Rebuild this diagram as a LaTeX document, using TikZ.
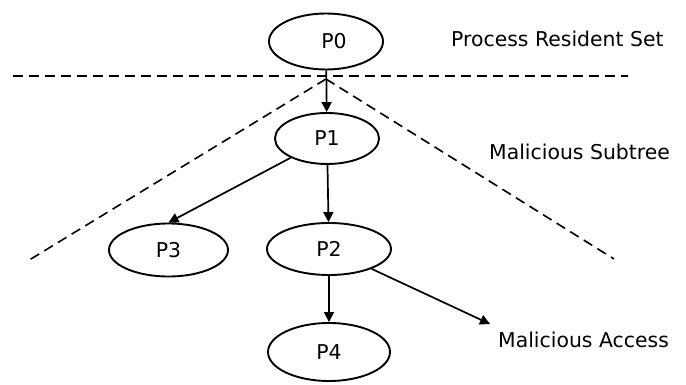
\documentclass[tikz,border=0pt]{standalone}
\usepackage{fontspec}
\setmainfont{DejaVu Sans}
\usetikzlibrary{shapes.geometric,arrows.meta}

\begin{document}
\begin{tikzpicture}[x=1pt,y=-1pt,
  font=\fontsize{20.4}{24}\selectfont,
  proc/.style={ellipse,draw,line width=1.9pt,inner sep=0pt},
  link/.style={line width=1.7pt,-{Triangle[length=10pt,width=10pt]}},
  border/.style={line width=1.6pt,dash pattern=on 10pt off 6pt},
  caption/.style={anchor=base west,inner sep=0pt}]

  \useasboundingbox (0,0) rectangle (686,385);

  % process tree
  \node[proc,minimum width=114pt,minimum height=56pt] (P0) at (326,41.5) {\hspace{16pt}P0};
  \node[proc,minimum width=104pt,minimum height=51pt] (P1) at (327,138.5) {P1};
  \node[proc,minimum width=119pt,minimum height=53pt] (P3) at (168.5,250) {P3};
  \node[proc,minimum width=124pt,minimum height=52pt] (P2) at (329,249) {P2};
  \node[proc,minimum width=122pt,minimum height=58pt] (P4) at (329,352) {P4\hspace{12pt}};

  % region captions
  \node[caption] (rs)  at (451,46.7)  {Process Resident Set};
  \node[caption] (sub) at (489,159.5) {Malicious Subtree};
  \node[caption] (acc) at (498,347.3) {Malicious Access};

  % region borders
  \coordinate (apex) at (326,79);
  \coordinate (hl) at (13,76);
  \coordinate (hr) at (628,76);
  \coordinate (dl) at (26,262);
  \coordinate (dr) at (614,259);
  \draw[border] (hl) -- (hr);
  \draw[border] (apex) -- (dl);
  \draw[border] (apex) -- (dr);

  % edges
  \coordinate (accTip) at (490,324);
  \draw[link] (P0) -- (P1);
  \draw[link] (P1) -- (P3.north);
  \draw[link] (P1) -- (P2);
  \draw[link] (P2) -- (P4);
  \draw[link] (P2) -- (accTip);
\end{tikzpicture}
\end{document}
